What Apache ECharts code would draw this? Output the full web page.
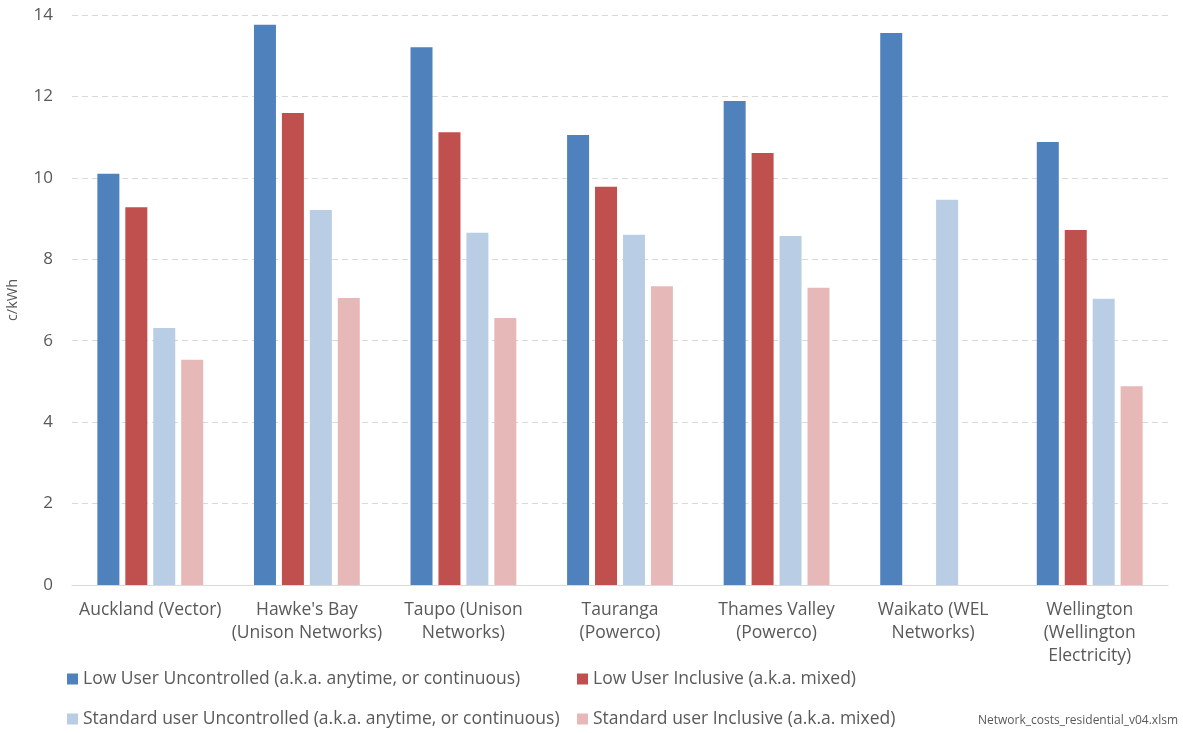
<!DOCTYPE html>
<html><head><meta charset="utf-8">
<script src="https://cdn.jsdelivr.net/npm/echarts@6/dist/echarts.min.js"></script>
<style>html,body{margin:0;padding:0;background:#fff}#c{width:1183px;height:733px}</style>
</head><body><div id="c"></div>
<script>
const categories = ["Auckland (Vector)", "Hawke's Bay\n(Unison Networks)", "Taupo (Unison\nNetworks)", "Tauranga\n(Powerco)", "Thames Valley\n(Powerco)", "Waikato (WEL\nNetworks)", "Wellington\n(Wellington\nElectricity)"];
const seriesNames = ["Low User Uncontrolled (a.k.a. anytime, or continuous)", "Low User Inclusive (a.k.a. mixed)", "Standard user Uncontrolled (a.k.a. anytime, or continuous)", "Standard user Inclusive (a.k.a. mixed)"];
const lowUncontrolled = [10.1, 13.76, 13.21, 11.05, 11.89, 13.56, 10.88];
const lowInclusive = [9.28, 11.59, 11.12, 9.78, 10.61, null, 8.72];
const stdUncontrolled = [6.31, 9.21, 8.65, 8.6, 8.57, 9.46, 7.03];
const stdInclusive = [5.53, 7.05, 6.56, 7.34, 7.3, null, 4.88];
const colors = ["#4f81bd", "#c0504d", "#b9cde5", "#e6b9b8"];
const font = "'Open Sans', sans-serif";
const txt = "#595959";

const chart = echarts.init(document.getElementById('c'));
const allData = [lowUncontrolled, lowInclusive, stdUncontrolled, stdInclusive];
chart.setOption({
  animation: false,
  textStyle: {fontFamily: font},
  grid: {left: 72, right: 15, top: 15, bottom: 148, containLabel: false, outerBoundsMode: 'none'},
  xAxis: {
    type: 'category', data: categories,
    axisLine: {lineStyle: {color: '#d9d9d9'}},
    axisTick: {show: false},
    axisLabel: {color: txt, fontSize: 17.5, fontFamily: font, margin: 14, lineHeight: 23, interval: 0}
  },
  yAxis: {
    type: 'value', min: 0, max: 14, interval: 2,
    name: 'c/kWh', nameLocation: 'middle', nameGap: 52, nameRotate: 90,
    nameTextStyle: {color: txt, fontSize: 14.5, fontFamily: font},
    axisLine: {show: false}, axisTick: {show: false},
    axisLabel: {color: txt, fontSize: 17, fontFamily: font, margin: 19},
    splitLine: {lineStyle: {color: '#d9d9d9', type: [6, 4]}}
  },
  legend: [
    {left: 62, top: 665, orient: 'vertical', itemGap: 22, itemWidth: 11, itemHeight: 11, icon: 'rect',
     data: [seriesNames[0], seriesNames[2]], textStyle: {color: txt, fontSize: 17.5, fontFamily: font}},
    {left: 572, top: 665, orient: 'vertical', itemGap: 22, itemWidth: 11, itemHeight: 11, icon: 'rect',
     data: [seriesNames[1], seriesNames[3]], textStyle: {color: txt, fontSize: 17.5, fontFamily: font}}
  ],
  graphic: [{type: 'text', right: 5, top: 715, style: {text: 'Network_costs_residential_v04.xlsm', fill: txt, font: "12px " + font}}],
  series: allData.map((d, i) => ({
    name: seriesNames[i], type: 'bar', data: d,
    barWidth: 22, barGap: '27%',
    itemStyle: {color: colors[i]}
  }))
});
</script></body></html>
